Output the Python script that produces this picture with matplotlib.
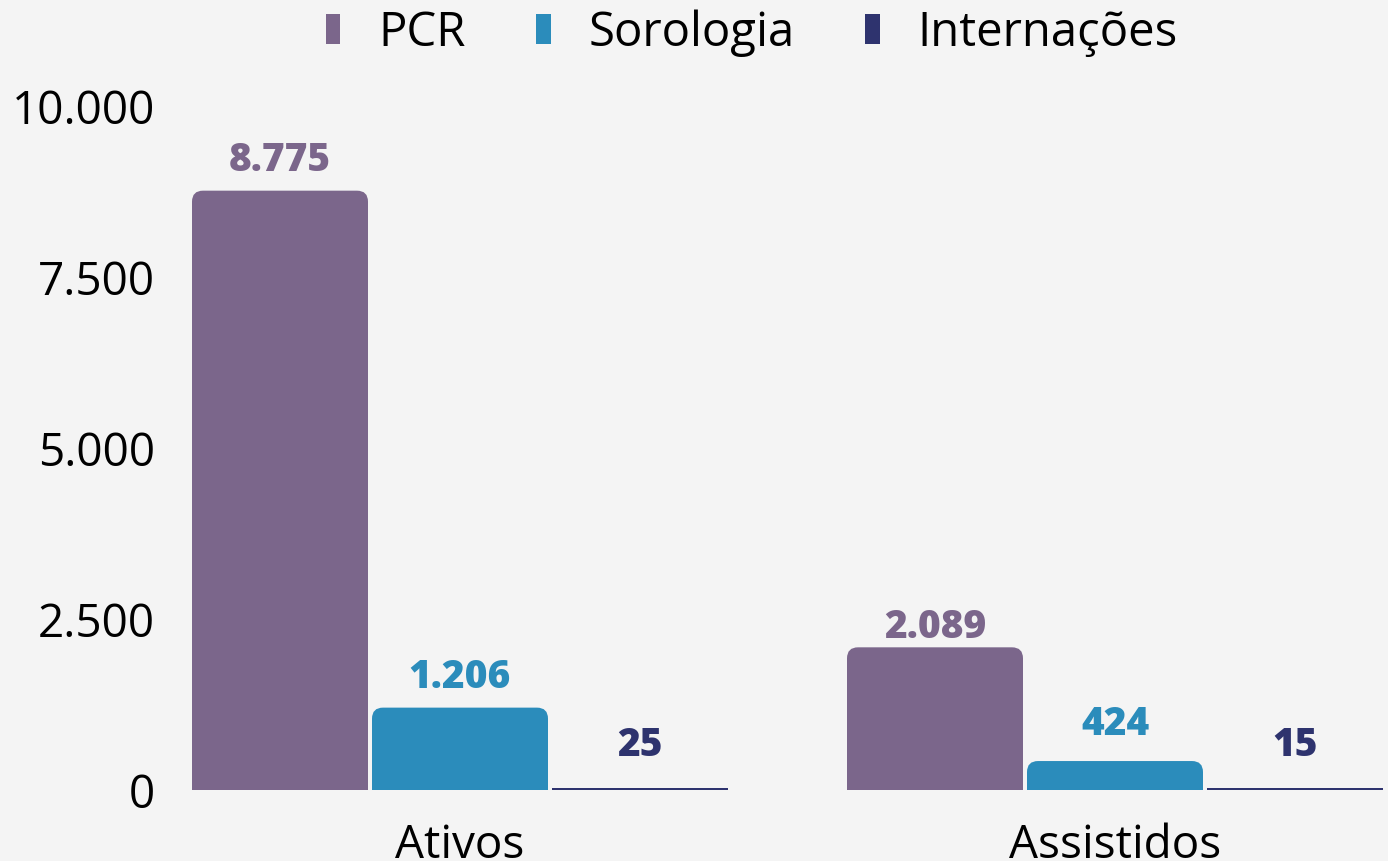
import numpy as np
import matplotlib
matplotlib.use("Agg")
import matplotlib.pyplot as plt
from matplotlib.patches import FancyBboxPatch, Rectangle, Patch

# dados
categorias = ["Ativos", "Assistidos"]
series = ["PCR", "Sorologia", "Internações"]
pcr = [8775, 2089]
sorologia = [1206, 424]
internacoes = [25, 15]
rotulos_y = ["0", "2.500", "5.000", "7.500", "10.000"]
ticks_y = [0, 2500, 5000, 7500, 10000]

cores = ["#7b668b", "#2b8cbb", "#2e336e"]
fundo = "#f4f4f4"
# deslocamento vertical (px) do rótulo acima da barra
desloc_rotulo = [[11, 0], [11, 17], [23, 24]]

plt.rcParams['font.family'] = ['Open Sans', 'DejaVu Sans']

W, H, DPI = 1388, 861, 100
fig = plt.figure(figsize=(W / DPI, H / DPI), dpi=DPI, facecolor=fundo)

ax_left, ax_right = 166, 1388
ax_bottom, ax_top = 790, 107
ax = fig.add_axes([ax_left / W, (H - ax_bottom) / H,
                   (ax_right - ax_left) / W, (ax_bottom - ax_top) / H])
ax.set_facecolor(fundo)

px_unit = 655.0
x0 = np.arange(len(categorias))
ax.set_xlim(-(460 - ax_left) / px_unit, (ax_right - 460) / px_unit)
ax.set_ylim(0, 10000)

largura = 176 / px_unit
passo = 180 / px_unit
valores = [pcr, sorologia, internacoes]

y_px = (ax_bottom - ax_top) / 10000.0
raio_px = 11

for i, (vals, cor) in enumerate(zip(valores, cores)):
    xs = x0 + (i - 1) * passo
    bars = ax.bar(xs, vals, width=largura, color=cor, linewidth=0)
    for j, b in enumerate(bars):
        x, y = b.get_x(), b.get_y()
        w, h = b.get_width(), b.get_height()
        h_px = h * y_px
        if h_px > 2 * raio_px:
            b.set_visible(False)
            r_x = raio_px / px_unit
            aspect = (raio_px / y_px) / r_x
            p = FancyBboxPatch((x, y), w, h,
                               boxstyle=f"round,pad=0,rounding_size={r_x}",
                               mutation_aspect=aspect, facecolor=cor,
                               edgecolor="none")
            ax.add_patch(p)
            ax.add_patch(Rectangle((x, y), w, h / 2, facecolor=cor,
                                   edgecolor="none"))
        else:
            b.set_height(max(h, 2.2 / y_px))
        txt = f"{vals[j]:,}".replace(",", ".")
        ax.annotate(txt, (b.get_x() + w / 2, h), xytext=(0, desloc_rotulo[i][j]),
                    textcoords="offset pixels", ha="center", va="bottom",
                    fontsize=28, fontweight="heavy", color=cor)

ax.set_xticks(x0)
ax.set_xticklabels(categorias)
ax.set_yticks(ticks_y)
ax.set_yticklabels(rotulos_y)
ax.tick_params(axis="both", length=0, labelsize=33, colors="black")
ax.tick_params(axis="x", pad=24)
ax.tick_params(axis="y", pad=8)
for s in ax.spines.values():
    s.set_visible(False)

handles = [Patch(facecolor=c, edgecolor="none") for c in cores]
fig.legend(handles, series, loc="center", bbox_to_anchor=(752 / W, 1 - 33 / H),
           ncol=3, frameon=False, fontsize=34, handletextpad=0.8,
           columnspacing=1.5, handlelength=0.3, handleheight=0.6)

fig.savefig("out.png", dpi=DPI, facecolor=fundo)
